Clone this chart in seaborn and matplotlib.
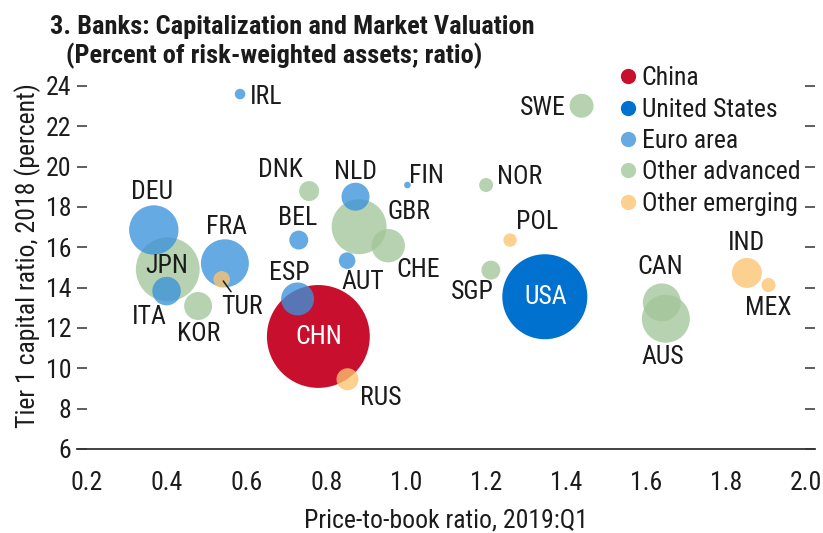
import pandas as pd
import seaborn as sns
import matplotlib
matplotlib.use('Agg')
import matplotlib.pyplot as plt
from matplotlib import font_manager
from matplotlib.lines import Line2D

sns.set_theme(style='white')

# pick a narrow font if there is one
installed = {f.name for f in font_manager.fontManager.ttflist}
narrow = [f for f in ['Liberation Sans Narrow', 'Roboto Condensed', 'Open Sans Condensed'] if f in installed]
plt.rcParams['font.family'] = narrow + ['DejaVu Sans']
if not narrow:
    plt.rcParams['font.stretch'] = 'condensed'

# data
countries = ['CHN', 'USA', 'IRL', 'DNK', 'NLD', 'FIN', 'DEU', 'JPN', 'ITA', 'KOR', 'FRA', 'TUR', 'BEL',
             'GBR', 'CHE', 'AUT', 'ESP', 'RUS', 'SWE', 'NOR', 'POL', 'SGP', 'IND', 'MEX', 'CAN', 'AUS']
groups = ['China', 'United States', 'Euro area', 'Other advanced', 'Euro area', 'Euro area', 'Euro area',
          'Other advanced', 'Euro area', 'Other advanced', 'Euro area', 'Other emerging', 'Euro area',
          'Other advanced', 'Other advanced', 'Euro area', 'Euro area', 'Other emerging', 'Other advanced',
          'Other advanced', 'Other emerging', 'Other advanced', 'Other emerging', 'Other emerging',
          'Other advanced', 'Other advanced']
price_to_book = [0.78, 1.347, 0.584, 0.757, 0.873, 1.003, 0.368, 0.403, 0.400, 0.479, 0.546, 0.538, 0.731,
                 0.882, 0.955, 0.852, 0.728, 0.853, 1.439, 1.200, 1.260, 1.212, 1.853, 1.907, 1.640, 1.650]
tier1 = [11.58, 13.55, 23.60, 18.79, 18.51, 19.09, 16.86, 14.91, 13.83, 13.09, 15.21, 14.41, 16.36,
         17.02, 16.08, 15.34, 13.44, 9.46, 23.02, 19.09, 16.36, 14.87, 14.73, 14.13, 13.27, 12.46]
# bubble size (relative bank assets)
assets = [26.5, 18.1, 0.28, 1.0, 1.96, 0.11, 6.1, 10.2, 2.04, 1.96, 5.76, 0.69, 0.9,
          7.56, 2.79, 0.69, 2.72, 1.21, 1.44, 0.49, 0.45, 0.9, 2.25, 0.49, 3.61, 5.76]

group_order = ['China', 'United States', 'Euro area', 'Other advanced', 'Other emerging']
group_colors = ['#C8102E', '#0071CE', '#3A92DA', '#A3C69A', '#FCC36E']

# label centres (data units) for each country
label_pos = {
    'IRL': (0.649, 23.45), 'DNK': (0.686, 19.83), 'NLD': (0.872, 19.73), 'FIN': (1.050, 19.54),
    'DEU': (0.363, 18.74), 'FRA': (0.549, 17.01), 'BEL': (0.727, 17.45), 'GBR': (1.007, 17.75),
    'CHE': (1.029, 14.87), 'AUT': (0.892, 14.28), 'ESP': (0.707, 14.73), 'JPN': (0.401, 15.07),
    'TUR': (0.589, 13.04), 'ITA': (0.356, 12.54), 'KOR': (0.481, 11.70), 'CHN': (0.780, 11.55),
    'USA': (1.348, 13.54), 'RUS': (0.937, 8.53), 'SWE': (1.343, 22.91), 'NOR': (1.285, 19.49),
    'POL': (1.327, 17.25), 'SGP': (1.165, 13.78), 'CAN': (1.635, 15.02), 'AUS': (1.643, 10.56),
    'IND': (1.853, 16.21), 'MEX': (1.906, 12.99),
}

df = pd.DataFrame({'country': countries, 'group': groups, 'ptb': price_to_book,
                   'tier1': tier1, 'assets': assets})
df = df.sort_values('assets', ascending=False)
palette = dict(zip(group_order, group_colors))

fs = 18.5
k = 207.0  # points^2 per asset unit
fig = plt.figure(figsize=(8.23, 5.33), dpi=100)
ax = fig.add_axes([0.0932, 0.1576, 0.8971, 0.7189])

solid = df[df['group'].isin(['China', 'United States'])]
light = df[~df['group'].isin(['China', 'United States'])]
for part, a in [(solid, 1.0), (light, 0.78)]:
    sns.scatterplot(data=part, x='ptb', y='tier1', hue='group', palette=palette,
                    size='assets', sizes=(k * part['assets'].min(), k * part['assets'].max()),
                    size_norm=(part['assets'].min(), part['assets'].max()),
                    alpha=a, linewidth=0, legend=False, ax=ax)

txt = '#1b1b1b'
for c, (lx, ly) in label_pos.items():
    col = 'white' if c in ('CHN', 'USA') else txt
    if c == 'TUR':
        ax.annotate(c, xy=(0.542, 14.33), xytext=(lx, ly), ha='center', va='center',
                    fontsize=fs, color=col,
                    arrowprops=dict(arrowstyle='-', color=txt, lw=1.1, shrinkA=0, shrinkB=0))
    else:
        ax.text(lx, ly, c, ha='center', va='center', fontsize=fs, color=col)

ax.set_xlim(0.175, 2.0235)
ax.set_ylim(6, 25)
ax.set_xticks([0.2, 0.4, 0.6, 0.8, 1.0, 1.2, 1.4, 1.6, 1.8, 2.0])
ax.set_xticklabels(['0.2', '0.4', '0.6', '0.8', '1.0', '1.2', '1.4', '1.6', '1.8', '2.0'])
ax.set_yticks([6, 8, 10, 12, 14, 16, 18, 20, 22, 24])
ax.set_yticklabels(['6', '8', '10', '12', '14', '16', '18', '20', '22', '24'])
for s in ['top', 'left', 'right']:
    ax.spines[s].set_visible(False)
ax.spines['bottom'].set_color('#333333')
ax.spines['bottom'].set_linewidth(1.3)
ax.tick_params(axis='x', direction='in', length=7, width=1.1, color='#333333',
               labelsize=fs, labelcolor=txt, pad=16)
ax.tick_params(axis='y', direction='in', length=7, width=1.1, color='#333333',
               labelsize=fs, labelcolor=txt, pad=4, left=True, right=True)
ax.set_xlabel('Price-to-book ratio, 2019:Q1', fontsize=fs, color=txt)
ax.set_ylabel('Tier 1 capital ratio, 2018 (percent)', fontsize=fs, color=txt)
ax.xaxis.set_label_coords(0.5, -0.155)
ax.yaxis.set_label_coords(-0.049, 0.506)

handles = [Line2D([], [], marker='o', linestyle='', markersize=11, markeredgewidth=0,
                  color=col, alpha=1.0 if g in ('China', 'United States') else 0.78)
           for g, col in zip(group_order, group_colors)]
fig.legend(handles, group_order, loc='upper left', bbox_to_anchor=(0.7506, 0.876),
           frameon=False, fontsize=fs, handletextpad=0.13, handlelength=0.8,
           labelspacing=0.29, borderpad=0, borderaxespad=0, labelcolor=txt)

fig.text(0.061, 0.949, '3. Banks: Capitalization and Market Valuation', fontsize=19,
         fontweight='bold', color=txt, va='center', ha='left')
fig.text(0.080, 0.895, '(Percent of risk-weighted assets; ratio)', fontsize=19,
         fontweight='bold', color=txt, va='center', ha='left')

fig.savefig('out.png', dpi=100)
